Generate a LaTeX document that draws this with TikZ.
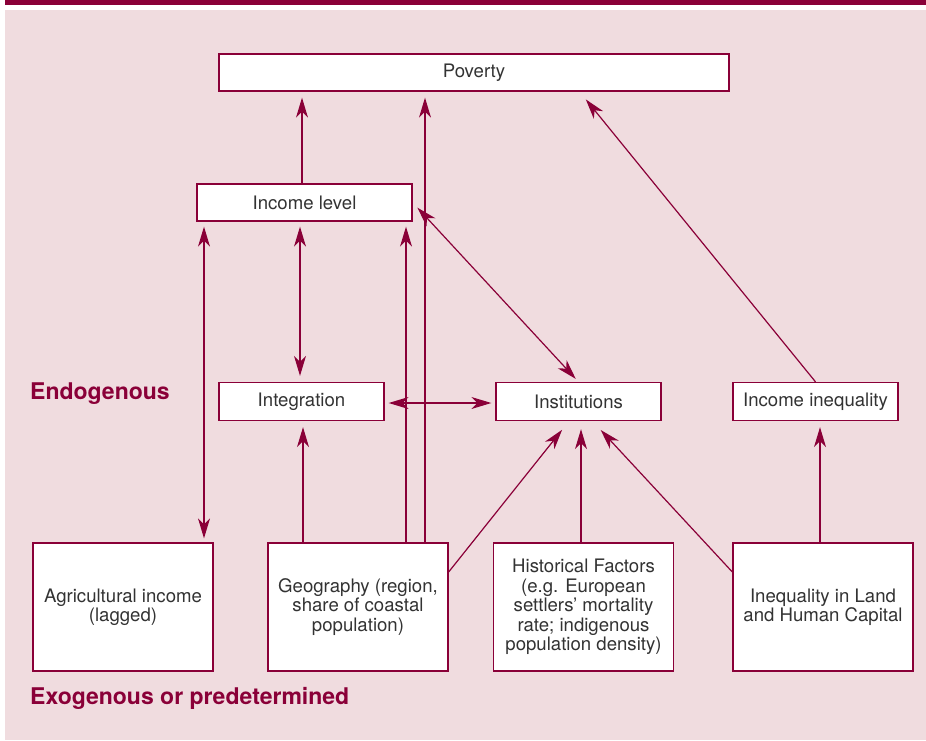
\documentclass[tikz,border=0pt]{standalone}
\usepackage{fontspec}
\setmainfont{TeX Gyre Heros}
\usetikzlibrary{arrows.meta}
\definecolor{dred}{HTML}{8A0038}
\definecolor{bgpink}{HTML}{F0DCDF}
\definecolor{txt}{HTML}{333333}
\begin{document}
\begin{tikzpicture}[x=1pt,y=-1pt,
  box/.style={draw=dred,line width=1.3pt,fill=white,inner sep=0pt,align=center,
    text=txt,font=\fontsize{18.6}{19.4}\selectfont},
  arr/.style={draw=dred,line width=1.2pt,-{Stealth[length=20pt,width=12pt,inset=6pt]}},
  darr/.style={draw=dred,line width=1.2pt,{Stealth[length=20pt,width=12pt,inset=6pt]}-{Stealth[length=20pt,width=12pt,inset=6pt]}},
  lbl/.style={anchor=base west,text=dred,font=\fontsize{23}{26}\selectfont\bfseries,inner sep=0pt}]
\useasboundingbox (0,0) rectangle (926,740);
\fill[white] (0,0) rectangle (926,740);
\fill[dred] (5,0) rectangle (926,4.5);
\fill[bgpink] (5,10) rectangle (926,740);

\node[box,minimum width=510pt,minimum height=37pt] (pov) at (474,72.5) {Poverty};
\node[box,minimum width=215pt,minimum height=37pt] (inc) at (304.5,202.5) {Income level};
\node[box,minimum width=165pt,minimum height=38pt] (integ) at (301.5,401.5) {Integration};
\node[box,minimum width=165pt,minimum height=38pt] (inst) at (578.5,401.5) {Institutions};
\node[box,minimum width=165pt,minimum height=38pt] (ineq) at (815.5,401.5) {Income inequality};
\node[box,minimum width=180pt,minimum height=128pt] (agri) at (123,607) {Agricultural income\\(lagged)};
\node[box,minimum width=180pt,minimum height=128pt] (geo) at (358,607) {Geography (region,\\share of coastal\\population)};
\node[box,minimum width=180pt,minimum height=128pt] (hist) at (583.5,607) {Historical Factors\\(e.g. European\\settlers’ mortality\\rate; indigenous\\population density)};
\node[box,minimum width=180pt,minimum height=128pt] (land) at (823,607) {Inequality in Land\\and Human Capital};

\node[lbl] (endo) at (30,399) {Endogenous};
\node[lbl] (exo) at (30,704) {Exogenous or predetermined};

\coordinate (c204) at (204,0);
\coordinate (c300) at (300,0);
\coordinate (c302) at (302,0);
\coordinate (c303) at (303,0);
\coordinate (c406) at (406,0);
\coordinate (c425) at (425,0);
\coordinate (c581) at (581,0);
\coordinate (c820) at (820,0);

\draw[arr,shorten >=6pt] (inc.north -| c302) -- (pov.south -| c302);
\draw[arr,shorten >=6pt] (geo.north -| c425) -- (pov.south -| c425);
\draw[arr,shorten >=5pt] (geo.north -| c406) -- (inc.south -| c406);
\draw[darr,shorten <=5pt,shorten >=4pt] (inc.south -| c204) -- (agri.north -| c204);
\draw[darr,shorten <=5pt,shorten >=6pt] (inc.south -| c300) -- (integ.north -| c300);
\draw[arr,shorten >=6pt] (geo.north -| c303) -- (integ.south -| c303);
\draw[darr,shorten <=4pt,shorten >=4pt] ([yshift=-1.5pt]integ.east) -- ([yshift=-1.5pt]inst.west);
\draw[darr,shorten <=7pt,shorten >=4pt] (inc.east) -- (inst.north);
\draw[arr,shorten >=11pt] ([yshift=35pt]geo.east) -- ([xshift=-9.5pt]inst.south);
\draw[arr,shorten >=8pt] (hist.north -| c581) -- (inst.south -| c581);
\draw[arr,shorten >=12pt] ([yshift=35pt]land.west) -- ([xshift=14pt]inst.south);
\draw[arr,shorten >=10pt] (ineq.north) -- ([xshift=105.5pt]pov.south);
\draw[arr,shorten >=6pt] (land.north -| c820) -- (ineq.south -| c820);
\end{tikzpicture}
\end{document}
